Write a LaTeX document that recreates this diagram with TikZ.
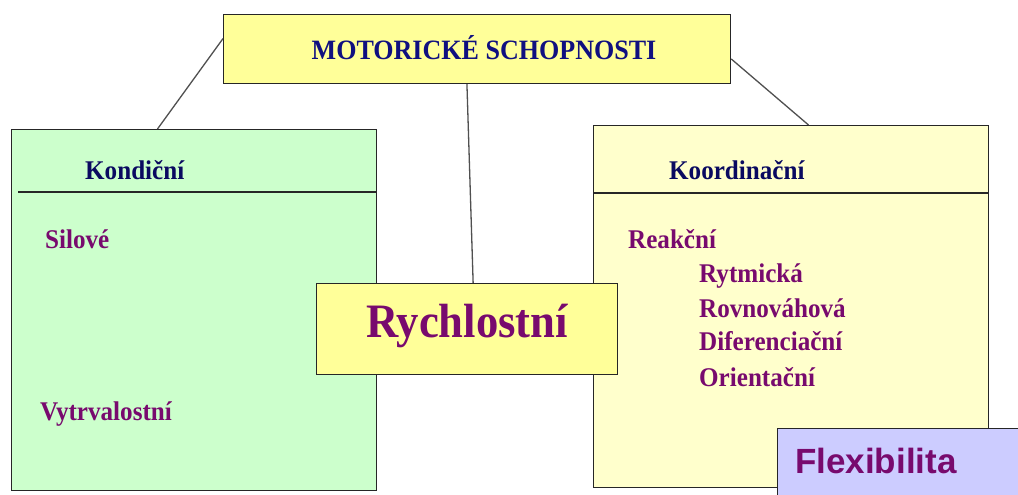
\documentclass[tikz,border=0pt]{standalone}
\usepackage{fontspec}
\setmainfont{Liberation Serif}[FakeStretch=0.93]
\newfontfamily\flexfont{Liberation Sans}
\usetikzlibrary{calc}
\definecolor{titleblue}{HTML}{101080}
\definecolor{navy}{HTML}{0A0A60}
\definecolor{plum}{HTML}{780A6E}
\definecolor{boxyellow}{HTML}{FFFF99}
\definecolor{paleyellow}{HTML}{FFFFCC}
\definecolor{palegreen}{HTML}{CCFFCC}
\definecolor{lavender}{HTML}{CCCCFF}
\definecolor{linegray}{HTML}{505050}
\tikzset{
  panel/.style={draw=black!85, line width=1.2pt, anchor=north west, inner sep=0pt},
  conn/.style={draw=linegray, line width=1.3pt},
  head/.style={anchor=base west, inner sep=0pt, text=navy, font=\bfseries\fontsize{27}{30}\selectfont},
  item/.style={anchor=base west, inner sep=0pt, text=plum, font=\bfseries\fontsize{27}{30}\selectfont},
}
\begin{document}
\begin{tikzpicture}[x=1pt, y=-1pt]
\clip (0,0) rectangle (1018,495);
\fill[white] (0,0) rectangle (1018,495);
% top box
\node[panel, fill=boxyellow, minimum width=507pt, minimum height=69pt] (top) at (223,14) {};
\node[anchor=base, inner sep=0pt, text=titleblue, font=\bfseries\fontsize{28}{30}\selectfont] (title) at (484,60) {MOTORICKÉ SCHOPNOSTI};
% left panel
\node[panel, fill=palegreen, minimum width=365pt, minimum height=361pt] (kond) at (11,129) {};
\coordinate (kdivl) at (18,192);
\draw[black!85, line width=1.2pt] (kdivl) -- (kdivl -| kond.east);
\node[head] (kondh) at (85,179) {Kondiční};
\node[item] (silove) at (45,248) {Silové};
\node[item] (vytr) at (40,420) {Vytrvalostní};
% right panel
\node[panel, fill=paleyellow, minimum width=395pt, minimum height=362pt] (koord) at (593,125) {};
\coordinate (rdivl) at (593,193);
\draw[black!85, line width=1.2pt] (rdivl) -- (rdivl -| koord.east);
\node[head] (koordh) at (669,179) {Koordinační};
\node[item] (reak) at (628,248) {Reakční};
\node[item] (rytm) at (699,282) {Rytmická};
\node[item] (rovn) at (699,317) {Rovnováhová};
\node[item] (dife) at (699,350) {Diferenciační};
\node[item] (orie) at (699,386) {Orientační};
% connectors
\draw[conn] ($(top.north west)!0.35!(top.south west)$) -- ($(kond.north west)!0.40!(kond.north east)$);
\draw[conn] ($(top.north east)!0.64!(top.south east)$) -- ($(koord.north west)!0.544!(koord.north east)$);
% middle box
\node[panel, fill=boxyellow, minimum width=301pt, minimum height=91pt] (rych) at (316,283) {};
\draw[conn] ($(top.south west)!0.48!(top.south east)$) -- ($(rych.north west)!0.52!(rych.north east)$);
\node[anchor=base, inner sep=0pt, text=plum, font=\bfseries\fontsize{48}{52}\selectfont] (rycht) at (467,337) {Rychlostní};
% flexibilita
\node[panel, fill=lavender, minimum width=260pt, minimum height=90pt] (flex) at (777,428) {};
\node[anchor=base west, inner sep=0pt, text=plum, font=\flexfont\bfseries\fontsize{35}{40}\selectfont] (flext) at (795,473) {Flexibilita};
\end{tikzpicture}
\end{document}
